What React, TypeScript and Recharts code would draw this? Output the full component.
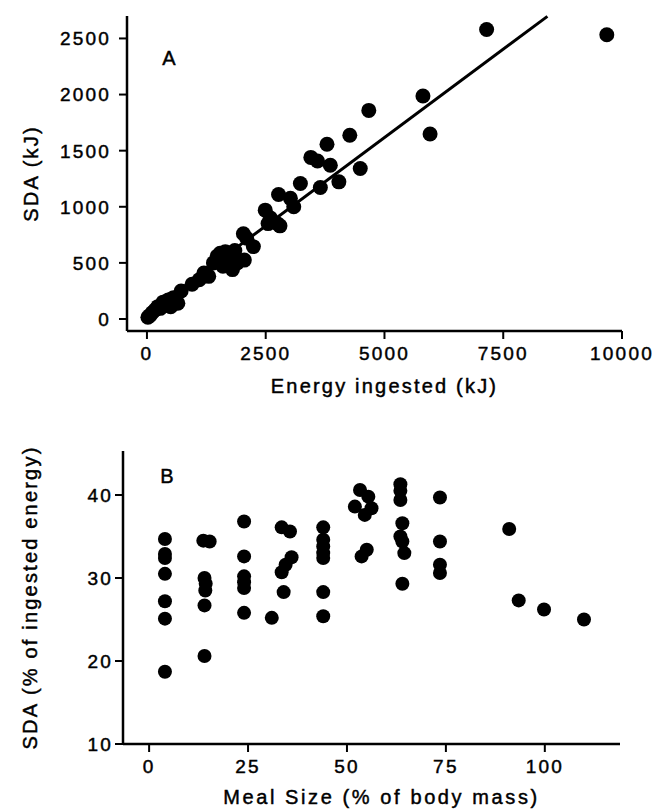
import React from 'react';
import { ScatterChart, Scatter, XAxis, YAxis, ReferenceLine } from 'recharts';

// Panel A: energy ingested vs SDA (kJ)
const energyIngested = [20, 60, 110, 170, 230, 280, 340, 400, 450, 500, 560, 650, 720, 950, 1100, 1200, 1300, 1400, 1480, 1540, 1600, 1650, 1720, 1750, 1800, 1850, 1900, 2030, 2050, 2100, 2240, 2490, 2550, 2600, 2740, 2770, 2800, 3020, 3090, 3230, 3450, 3590, 3650, 3790, 3860, 4040, 4270, 4490, 4670, 5810, 5960, 7150, 9680];
const sdaKJ = [15, 30, 55, 80, 110, 95, 150, 120, 170, 110, 190, 140, 250, 310, 350, 410, 380, 500, 560, 585, 470, 600, 520, 555, 440, 610, 500, 760, 525, 720, 645, 970, 850, 900, 851, 1110, 830, 1075, 1000, 1207, 1440, 1408, 1172, 1557, 1370, 1222, 1637, 1341, 1859, 1987, 1649, 2580, 2533];
const fitX = [0, 8430];
const fitY = [42, 2697];
const ticksA_x = [0, 2500, 5000, 7500, 10000];
const ticksA_y = [0, 500, 1000, 1500, 2000, 2500];

// Panel B: meal size vs SDA (% of ingested energy)
const mealSize = [4, 4, 4, 4, 4, 4, 4, 13.7, 15.3, 14, 14.3, 14.2, 14, 14, 24, 24, 24, 24, 24, 24, 31, 33.5, 35.6, 36, 34.5, 33.5, 34, 44, 44, 44, 44, 44, 44, 44, 53.3, 55.4, 52, 56.2, 54.5, 53.7, 55, 63.5, 63.5, 63.5, 64, 63.5, 64, 64.5, 64, 73.5, 73.5, 73.5, 73.5, 91, 93.4, 99.8, 109.9];
const sdaPct = [34.7, 32.9, 32.4, 30.5, 27.2, 25.1, 18.7, 34.5, 34.4, 30.0, 29.3, 28.5, 26.7, 20.6, 36.8, 32.6, 30.2, 29.5, 28.8, 25.8, 25.2, 36.1, 35.6, 32.5, 31.6, 30.7, 28.3, 36.1, 34.6, 33.8, 33.0, 32.4, 28.3, 25.4, 40.6, 39.8, 38.6, 38.4, 37.6, 32.6, 33.4, 41.3, 40.5, 39.4, 36.6, 35.0, 34.4, 33.0, 29.3, 39.7, 34.4, 31.6, 30.6, 35.9, 27.3, 26.2, 25.0];
const ticksB_x = [0, 25, 50, 75, 100];
const ticksB_y = [10, 20, 30, 40];

const dataA = energyIngested.map((x, i) => ({ x, y: sdaKJ[i] }));
const dataB = mealSize.map((x, i) => ({ x, y: sdaPct[i] }));

const FONT = '"Liberation Sans", Arial, Helvetica, sans-serif';
const textStyle = (size: number, ls: number) => ({
  fontSize: size,
  fontFamily: FONT,
  letterSpacing: `${ls}px`,
  fill: '#000',
  stroke: '#000',
  strokeWidth: 0.45,
});

const dot = (r: number) => (props: any) => (
  <circle cx={props.cx} cy={props.cy} r={r} fill="#000" />
);

const xTick = (props: any) => (
  <text x={props.x} y={props.y} dy="0.71em" textAnchor="middle" style={textStyle(19, 2.2)}>
    {props.payload.value}
  </text>
);

const yTick = (props: any) => (
  <text x={props.x} y={props.y} dy="0.36em" textAnchor="end" style={textStyle(19, 2.2)}>
    {props.payload.value}
  </text>
);

const xTitle = (text: string, dy: number, ls: number) => (props: any) => {
  const vb = props.viewBox;
  return (
    <text x={vb.x + vb.width / 2 + 10} y={vb.y + dy} textAnchor="middle" style={textStyle(20, ls)}>
      {text}
    </text>
  );
};

const yTitle = (text: string, bx: number) => (props: any) => {
  const vb = props.viewBox;
  const cy = vb.y + vb.height / 2;
  return (
    <text x={bx} y={cy} transform={`rotate(-90, ${bx}, ${cy})`} textAnchor="middle" style={textStyle(20, 2.2)}>
      {text}
    </text>
  );
};

export default function App() {
  return (
    <div style={{ position: 'absolute', left: 0, top: 0, width: 654, height: 810, background: '#fff' }}>
      <div style={{ position: 'absolute', left: 0, top: 0 }}>
        <ScatterChart width={654} height={400} margin={{ top: 16, right: 32, bottom: 10, left: 0 }}>
          <XAxis
            type="number"
            dataKey="x"
            domain={[-420, 10000]}
            ticks={ticksA_x}
            allowDataOverflow
            height={59}
            tick={xTick}
            tickSize={8}
            tickMargin={8}
            axisLine={{ stroke: '#000', strokeWidth: 2.5 }}
            tickLine={{ stroke: '#000', strokeWidth: 2 }}
            label={xTitle('Energy ingested (kJ)', 62, 2.2)}
          />
          <YAxis
            type="number"
            dataKey="y"
            domain={[-107, 2700]}
            ticks={ticksA_y}
            allowDataOverflow
            width={127}
            tick={yTick}
            tickSize={8}
            tickMargin={8}
            axisLine={{ stroke: '#000', strokeWidth: 2.5 }}
            tickLine={{ stroke: '#000', strokeWidth: 2 }}
            label={yTitle('SDA (kJ)', 38)}
          />
          <ReferenceLine
            segment={[{ x: fitX[0], y: fitY[0] }, { x: fitX[1], y: fitY[1] }]}
            stroke="#000"
            strokeWidth={3}
          />
          <Scatter data={dataA} shape={dot(7.5)} isAnimationActive={false} />
        </ScatterChart>
      </div>
      <div style={{ position: 'absolute', left: 0, top: 420 }}>
        <ScatterChart width={654} height={390} margin={{ top: 31, right: 34, bottom: 0, left: 0 }}>
          <XAxis
            type="number"
            dataKey="x"
            domain={[-6.6, 119]}
            ticks={ticksB_x}
            allowDataOverflow
            height={66}
            tick={xTick}
            tickSize={8}
            tickMargin={8}
            axisLine={{ stroke: '#000', strokeWidth: 2.5 }}
            tickLine={{ stroke: '#000', strokeWidth: 2 }}
            label={xTitle('Meal Size (% of body mass)', 60, 2.6)}
          />
          <YAxis
            type="number"
            dataKey="y"
            domain={[10, 45.3]}
            ticks={ticksB_y}
            allowDataOverflow
            width={123}
            tick={yTick}
            tickSize={8}
            tickMargin={2}
            axisLine={{ stroke: '#000', strokeWidth: 2.5 }}
            tickLine={{ stroke: '#000', strokeWidth: 2 }}
            label={yTitle('SDA (% of ingested energy)', 37)}
          />
          <Scatter data={dataB} shape={dot(7)} isAnimationActive={false} />
        </ScatterChart>
      </div>
      <svg width={654} height={810} style={{ position: 'absolute', left: 0, top: 0, pointerEvents: 'none' }}>
        <text x={169} y={65} textAnchor="middle" style={textStyle(20, 0)}>A</text>
        <text x={167} y={483} textAnchor="middle" style={textStyle(20, 0)}>B</text>
      </svg>
    </div>
  );
}
